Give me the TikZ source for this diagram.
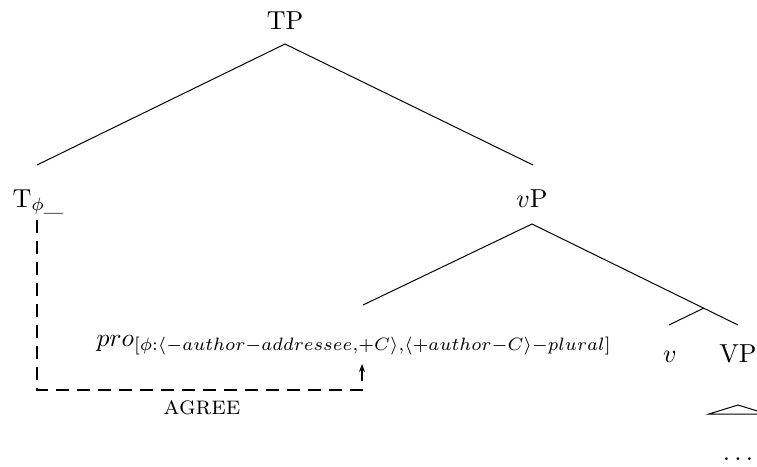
\documentclass[tikz,border=0pt]{standalone}
\usetikzlibrary{arrows.meta}
\begin{document}
\begin{tikzpicture}[x=0.5pt,y=-0.5pt,
  branch/.style={line width=0.5pt},
  lbl/.style={inner sep=0pt,anchor=base,scale=1.3},
  agreepath/.style={line width=1pt,dash pattern=on 6.5pt off 4pt,-{Stealth[length=4pt,width=3pt]}}]
\useasboundingbox (0,0) rectangle (757,467);

% category labels
\node[lbl] (tp) at (285,29) {TP};
\node[lbl,anchor=base west] (t) at (12,207) {T$_{\phi\_}$};
\node[lbl] (vp) at (532,207) {$v$P};
\node[lbl,anchor=base west,scale=0.985] (pro) at (96,346) {$pro_{[\phi:\langle -author-addressee,+C\rangle,\langle +author-C\rangle-plural]}$};
\node[lbl] (v) at (670,362) {$v$};
\node[lbl] (vpp) at (738,362) {VP};
\node[lbl] (dots) at (738,460) {$\ldots$};
\node[lbl,anchor=center] (agree) at (202,408) {\textsc{agree}};

% branch points
\coordinate (tpb) at (285,44);
\coordinate (tl) at (37,165);
\coordinate (vpt) at (533,165);
\coordinate (vpb) at (532,224);
\coordinate (prot) at (363,305);
\coordinate (vpr) at (738,325);
\coordinate (vx) at (704,308);
\coordinate (vt) at (669,325);

\draw[branch] (tl) -- (tpb) -- (vpt);
\draw[branch] (prot) -- (vpb) -- (vpr);
\draw[branch] (vx) -- (vt);

% collapsed VP
\draw[branch] (709,414) -- (738,405) -- (767,414) -- cycle;

% agreement relation
\coordinate (ags) at (37,220);
\coordinate (age) at (362,364);
\draw[agreepath] (ags) -- (37,390) -- (362,390) -- (age);
\end{tikzpicture}
\end{document}
